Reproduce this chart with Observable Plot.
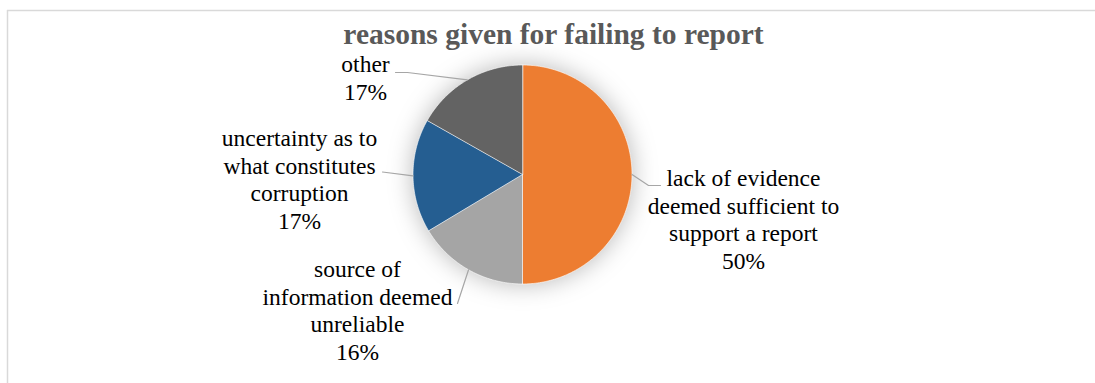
<!DOCTYPE html>
<html>
<head>
<meta charset="utf-8">
<script src="https://cdn.jsdelivr.net/npm/d3@7"></script>
<script src="https://cdn.jsdelivr.net/npm/@observablehq/plot@0.6"></script>
<style>
  html, body { margin: 0; padding: 0; background: #fff; }
  #chart svg text { font-family: "Liberation Serif", "Times New Roman", serif; }
</style>
</head>
<body>
<div id="chart"></div>
<script>
// ---- data ----
const title = "reasons given for failing to report";
const categories = [
  "lack of evidence deemed sufficient to support a report",
  "source of information deemed unreliable",
  "uncertainty as to what constitutes corruption",
  "other"
];
const labelLines = [
  ["lack of evidence", "deemed sufficient to", "support a report"],
  ["source of", "information deemed", "unreliable"],
  ["uncertainty as to", "what constitutes", "corruption"],
  ["other"]
];
const values = [50, 16.4, 16.8, 16.8];
const colors = ["#ed7d31", "#a5a5a5", "#255e91", "#636363"];

// ---- layout (pixel-space positions for the chart furniture) ----
const W = 1095, H = 383;
const cx = 522, cy = 174, R = 109.5;
const labelPos = [ // label centre x, baseline of last line
  {x: 743, y: 268},
  {x: 357, y: 359},
  {x: 299, y: 228},
  {x: 365, y: 99}
];
const leaderElbows = [ // extra points from the slice edge toward the label
  [[648, 185], [660, 185]],
  [[457, 303]],
  [[382, 171.5]],
  [[407, 72], [395, 72]]
];

// ---- derived geometry ----
const total = d3.sum(values);
const pie = d3.pie().sort(null).value(d => d)(values);
const pt = a => [cx + R * Math.sin(a), cy - R * Math.cos(a)];

const slicePts = [];
pie.forEach((p, i) => {
  const name = categories[i];
  slicePts.push({name, x: cx, y: cy});
  const n = Math.max(2, Math.ceil((p.endAngle - p.startAngle) / (Math.PI / 180)));
  for (let k = 0; k <= n; k++) {
    const a = p.startAngle + (p.endAngle - p.startAngle) * k / n;
    const [x, y] = pt(a);
    slicePts.push({name, x, y});
  }
});

const leaderPts = [];
pie.forEach((p, i) => {
  const mid = (p.startAngle + p.endAngle) / 2;
  const [x, y] = pt(mid);
  leaderPts.push({name: categories[i], x, y});
  leaderElbows[i].forEach(([ex, ey]) => leaderPts.push({name: categories[i], x: ex, y: ey}));
});

const labels = categories.map((c, i) => ({
  name: c,
  x: labelPos[i].x,
  y: labelPos[i].y,
  text: [...labelLines[i], Math.round(values[i] / total * 100) + "%"].join("\n")
}));

const chart = Plot.plot({
  width: W,
  height: H,
  margin: 0,
  x: {domain: [0, W], range: [0, W], axis: null},
  y: {domain: [0, H], range: [0, H], axis: null},
  color: {domain: categories, range: colors},
  style: {background: "#fff"},
  marks: [
    Plot.ruleY([10], {x1: 7, x2: W, stroke: "#d9d9d9", strokeWidth: 1.5}),
    Plot.ruleX([7], {y1: 10, y2: H, stroke: "#d9d9d9", strokeWidth: 1.5}),
    Plot.line(slicePts, {x: "x", y: "y", z: "name", fill: "name", stroke: "white", strokeWidth: 0.6, curve: "linear-closed"}),
    Plot.line(leaderPts, {x: "x", y: "y", z: "name", stroke: "#a6a6a6", strokeWidth: 1.2}),
    Plot.text(labels, {x: "x", y: "y", text: "text", lineAnchor: "bottom", lineHeight: 1.165,
      fontFamily: "Liberation Serif", fontSize: 23.5, fill: "#000", textAnchor: "middle"}),
    Plot.text([title], {x: () => 553, y: () => 43, text: d => d, lineAnchor: "bottom",
      fontFamily: "Liberation Serif", fontSize: 29.5, fontWeight: "bold", fill: "#595959"})
  ]
});

document.getElementById("chart").appendChild(chart);
const pieG = chart.querySelectorAll('g[aria-label="line"]')[0];
if (pieG) pieG.style.filter = "drop-shadow(0px 0px 12px rgba(0,0,0,0.28))";
</script>
</body>
</html>
